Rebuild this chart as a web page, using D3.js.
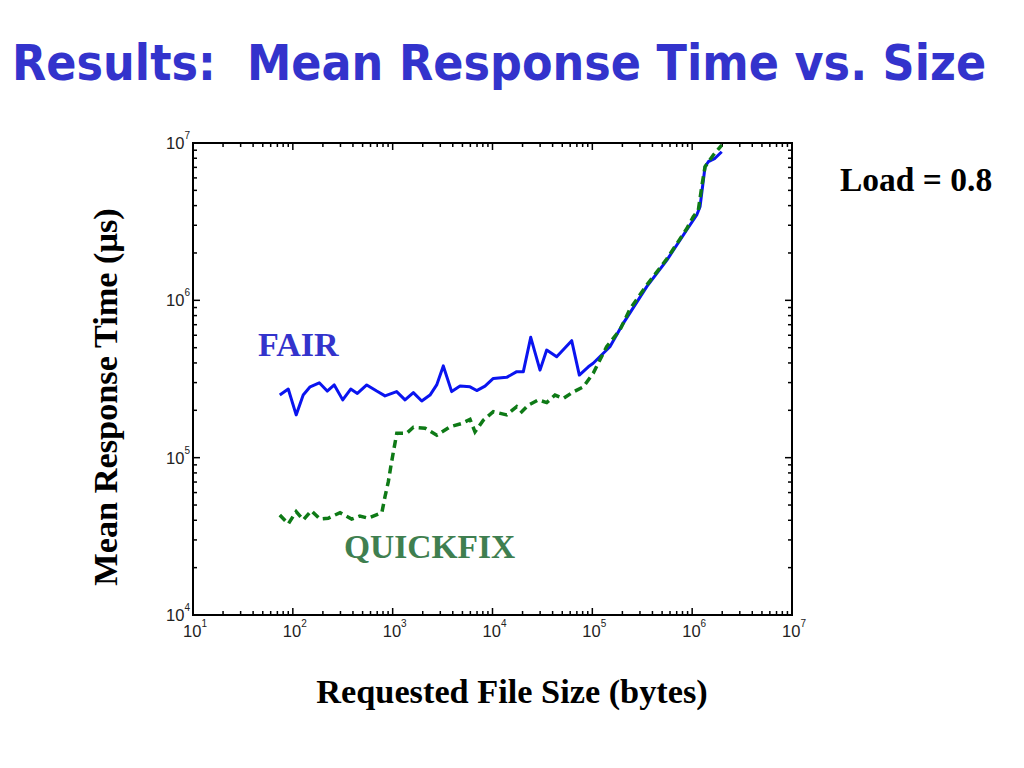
<!DOCTYPE html>
<html>
<head>
<meta charset="utf-8">
<script src="https://cdn.jsdelivr.net/npm/d3@7"></script>
<style>
  html, body { margin: 0; padding: 0; background: #fff; }
  svg { display: block; }
</style>
</head>
<body>
<svg id="chart" width="1024" height="768"></svg>
<script>
// ---- data ----
const fairSize = [74, 90, 108, 127, 149, 184, 221, 260, 316, 380, 443, 550, 692, 838, 1096, 1330, 1611, 1955, 2366, 2761, 3215, 3900, 4730, 5955, 6950, 8410, 10190, 13870, 17490, 20370, 24150, 29920, 34900, 43950, 62100, 74100, 91200, 102000, 150000, 204000, 351000, 556000, 881000, 1111000, 1199000, 1346000, 1452000, 1694000, 1977000];
const fairTime = [250000, 273000, 187000, 250000, 282000, 299000, 265000, 290000, 233000, 273000, 256000, 290000, 265000, 247000, 263000, 233000, 259000, 229000, 250000, 290000, 383000, 263000, 285000, 282000, 267000, 285000, 319000, 324000, 352000, 352000, 582000, 360000, 483000, 438000, 554000, 335000, 378000, 398000, 507000, 714000, 1222000, 1795000, 2800000, 3486000, 3933000, 7064000, 7605000, 7995000, 8805000];

const quickSize = [74, 90, 108, 127, 153, 187, 226, 297, 388, 469, 568, 779, 838, 905, 957, 1017, 1100, 1384, 1612, 2111, 2768, 3760, 4930, 5955, 6680, 8090, 10190, 13870, 17490, 19620, 22900, 28800, 34900, 42300, 51300, 64600, 81200, 102000, 139000, 189000, 238000, 351000, 556000, 881000, 1026000, 1153000, 1247000, 1346000, 1630000, 1977000];
const quickTime = [43200, 37900, 45400, 40200, 46000, 40700, 41200, 44700, 40700, 42600, 41200, 44700, 56500, 70400, 87600, 109000, 143000, 143000, 156000, 154000, 139000, 157000, 165000, 175000, 146000, 173000, 196000, 187000, 211000, 196000, 216000, 233000, 224000, 250000, 238000, 262000, 282000, 344000, 507000, 648000, 880000, 1250000, 1830000, 2850000, 3400000, 3750000, 5270000, 7064000, 8390000, 9700000];

const xDecades = [1, 2, 3, 4, 5, 6, 7];   // tick label exponents, x axis
const yDecades = [4, 5, 6, 7];            // tick label exponents, y axis

const titleText = "Results:  Mean Response Time vs. Size";
const xLabel = "Requested File Size (bytes)";
const yLabel = "Mean Response Time (\u03bcs)";
const loadText = "Load = 0.8";
const fairName = "FAIR";
const quickName = "QUICKFIX";

// ---- layout ----
const svg = d3.select("#chart");
const L = 193, R = 792, T = 143, B = 615;

const x = d3.scaleLog().domain([1e1, 1e7]).range([L, R]);
const y = d3.scaleLog().domain([1e4, 1e7]).range([B, T]);

// title
svg.append("text")
  .attr("transform", "translate(12,80) scale(1,1.12)")
  .attr("xml:space", "preserve")
  .style("white-space", "pre")
  .style("font-family", "'DejaVu Sans', sans-serif")
  .style("font-weight", "bold")
  .style("font-size", "44.6px")
  .style("fill", "#3333cc")
  .text(titleText);

// frame
const g = svg.append("g");
g.append("rect")
  .attr("x", L).attr("y", T).attr("width", R - L).attr("height", B - T)
  .attr("fill", "none").attr("stroke", "#000").attr("stroke-width", 2);

// ticks
function allTicks(dom) {
  const out = [];
  const lo = Math.round(Math.log10(dom[0])), hi = Math.round(Math.log10(dom[1]));
  for (let k = lo; k <= hi; k++) {
    for (let m = 1; m <= 9; m++) {
      const v = m * Math.pow(10, k);
      if (v > dom[1] * 1.0001) break;
      out.push({ v, major: m === 1 });
    }
  }
  return out;
}
const majLen = 7, minLen = 4;
allTicks(x.domain()).forEach(t => {
  const px = x(t.v), len = t.major ? majLen : minLen;
  g.append("line").attr("x1", px).attr("x2", px).attr("y1", B).attr("y2", B - len)
    .attr("stroke", "#000").attr("stroke-width", 1.5);
  g.append("line").attr("x1", px).attr("x2", px).attr("y1", T).attr("y2", T + len)
    .attr("stroke", "#000").attr("stroke-width", 1.5);
});
allTicks(y.domain()).forEach(t => {
  const py = y(t.v), len = t.major ? majLen : minLen;
  g.append("line").attr("y1", py).attr("y2", py).attr("x1", L).attr("x2", L + len)
    .attr("stroke", "#000").attr("stroke-width", 1.5);
  g.append("line").attr("y1", py).attr("y2", py).attr("x1", R).attr("x2", R - len)
    .attr("stroke", "#000").attr("stroke-width", 1.5);
});

// tick labels
const tickFont = "'Liberation Sans', Arial, sans-serif";
xDecades.forEach(e => {
  const t = svg.append("text")
    .attr("x", x(Math.pow(10, e)) + 2).attr("y", 637)
    .attr("text-anchor", "middle")
    .style("font-family", tickFont).style("font-size", "16.5px").style("fill", "#222");
  t.append("tspan").text("10");
  t.append("tspan").attr("dy", -10).style("font-size", "10px").text(String(e));
});
yDecades.forEach(e => {
  const t = svg.append("text")
    .attr("x", 190).attr("y", y(Math.pow(10, e)) + 6)
    .attr("text-anchor", "end")
    .style("font-family", tickFont).style("font-size", "16.5px").style("fill", "#222");
  t.append("tspan").text("10");
  t.append("tspan").attr("dy", -10).style("font-size", "10px").text(String(e));
});

// lines
const line = d3.line().x(d => x(d[0])).y(d => y(d[1]));
const fairData = fairSize.map((s, i) => [s, fairTime[i]]);
const quickData = quickSize.map((s, i) => [s, quickTime[i]]);

svg.append("path").datum(fairData)
  .attr("d", line).attr("fill", "none")
  .attr("stroke", "#0a14f0").attr("stroke-width", 3)
  .attr("stroke-linejoin", "round");

svg.append("path").datum(quickData)
  .attr("d", line).attr("fill", "none")
  .attr("stroke", "#0e7a16").attr("stroke-width", 3.5)
  .attr("stroke-dasharray", "8,5");

// series labels
const serif = "'Liberation Serif', 'Times New Roman', serif";
svg.append("text").attr("x", 258).attr("y", 356)
  .style("font-family", serif).style("font-weight", "bold").style("font-size", "34px")
  .style("fill", "#3333cc").text(fairName);
svg.append("text").attr("x", 344).attr("y", 558)
  .style("font-family", serif).style("font-weight", "bold").style("font-size", "33.5px")
  .style("fill", "#3f7f50").text(quickName);

svg.append("text").attr("x", 840).attr("y", 191)
  .style("font-family", serif).style("font-weight", "bold").style("font-size", "33.5px")
  .style("fill", "#000").text(loadText);

// axis labels
svg.append("text").attr("x", 512).attr("y", 703).attr("text-anchor", "middle")
  .style("font-family", serif).style("font-weight", "bold").style("font-size", "34.3px")
  .style("fill", "#000").text(xLabel);

svg.append("text").attr("transform", "translate(117,397) rotate(-90)")
  .attr("text-anchor", "middle")
  .style("font-family", serif).style("font-weight", "bold").style("font-size", "34.3px")
  .style("fill", "#000").text(yLabel);
</script>
</body>
</html>
